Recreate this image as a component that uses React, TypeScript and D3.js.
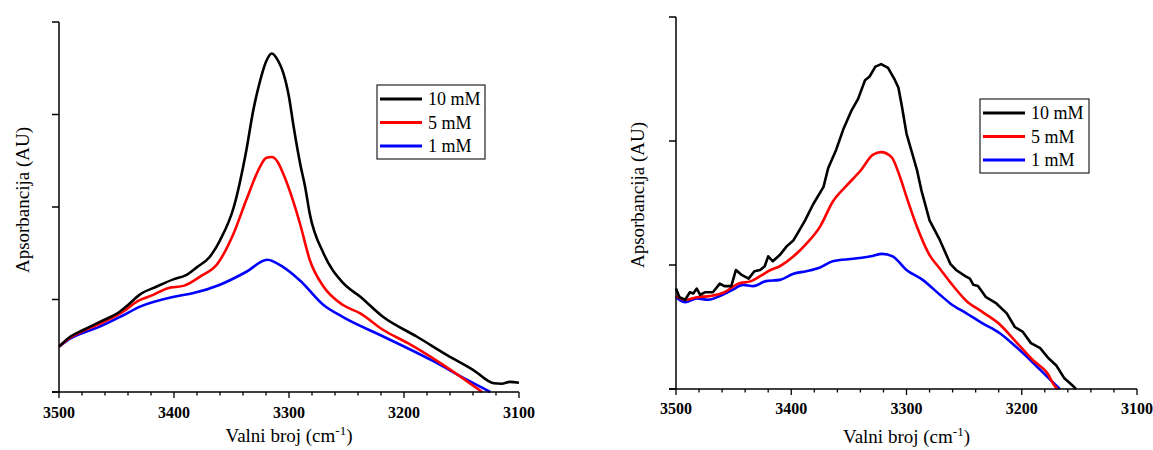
import React from "react";
import * as d3 from "d3";

// ---------- Data (left panel) ----------
const L10_wn = [3500, 3490, 3479, 3464, 3447, 3440, 3430, 3415, 3400, 3390, 3380, 3369, 3360, 3348, 3337, 3331, 3325, 3320, 3315, 3309, 3305, 3300, 3296, 3290, 3286, 3282, 3270, 3253, 3238, 3218, 3189, 3160, 3140, 3122, 3115, 3108, 3100];
const L10_v = [0.49, 0.6, 0.67, 0.76, 0.87, 0.94, 1.05, 1.14, 1.22, 1.26, 1.35, 1.46, 1.64, 2.0, 2.62, 3.05, 3.37, 3.57, 3.66, 3.57, 3.45, 3.19, 2.87, 2.45, 2.22, 1.93, 1.5, 1.18, 1.03, 0.81, 0.6, 0.38, 0.24, 0.095, 0.09, 0.11, 0.1];
const L5_wn = [3500, 3490, 3479, 3464, 3444, 3432, 3418, 3406, 3391, 3377, 3362, 3348, 3337, 3325, 3320, 3315, 3310, 3305, 3296, 3290, 3282, 3270, 3253, 3238, 3218, 3197, 3168, 3132];
const L5_v = [0.49, 0.59, 0.66, 0.74, 0.87, 0.98, 1.05, 1.12, 1.15, 1.25, 1.39, 1.72, 2.08, 2.44, 2.53, 2.54, 2.49, 2.36, 2.05, 1.8, 1.43, 1.14, 0.94, 0.85, 0.67, 0.53, 0.31, 0.0];
const L1_wn = [3500, 3490, 3479, 3464, 3444, 3430, 3400, 3383, 3360, 3337, 3319, 3305, 3290, 3270, 3253, 3218, 3174, 3145, 3125];
const L1_v = [0.49, 0.58, 0.64, 0.71, 0.83, 0.92, 1.03, 1.07, 1.16, 1.3, 1.43, 1.35, 1.2, 0.94, 0.81, 0.6, 0.33, 0.13, 0.0];

// ---------- Data (right panel) ----------
const R10_wn = [3500, 3497, 3492, 3488, 3485, 3482, 3479, 3475, 3468, 3462, 3458, 3452, 3448, 3443, 3437, 3432, 3427, 3423, 3420, 3416, 3410, 3404, 3398, 3393, 3388, 3381, 3372, 3368, 3361, 3355, 3348, 3342, 3336, 3332, 3327, 3322, 3316, 3310, 3307, 3304, 3300, 3296, 3291, 3287, 3280, 3271, 3262, 3257, 3249, 3245, 3242, 3238, 3231, 3222, 3213, 3206, 3199, 3192, 3184, 3177, 3170, 3163, 3155, 3153];
const R10_v = [0.81, 0.74, 0.72, 0.78, 0.77, 0.81, 0.76, 0.78, 0.78, 0.85, 0.83, 0.83, 0.96, 0.92, 0.89, 0.95, 0.96, 0.99, 1.07, 1.03, 1.08, 1.15, 1.2, 1.28, 1.36, 1.49, 1.63, 1.78, 1.93, 2.09, 2.24, 2.34, 2.49, 2.52, 2.6, 2.62, 2.59, 2.49, 2.43, 2.28, 2.06, 1.93, 1.77, 1.6, 1.36, 1.2, 1.01, 0.96, 0.91, 0.89, 0.84, 0.83, 0.74, 0.69, 0.61, 0.5, 0.46, 0.37, 0.33, 0.25, 0.19, 0.086, 0.02, 0.0];
const R5_wn = [3500, 3492, 3482, 3470, 3458, 3446, 3435, 3427, 3418, 3410, 3398, 3387, 3375, 3364, 3352, 3340, 3329, 3322, 3313, 3306, 3300, 3291, 3280, 3271, 3262, 3248, 3234, 3219, 3205, 3190, 3178, 3171, 3169];
const R5_v = [0.75, 0.72, 0.74, 0.75, 0.78, 0.85, 0.87, 0.91, 0.96, 0.99, 1.07, 1.17, 1.31, 1.51, 1.64, 1.76, 1.89, 1.91, 1.87, 1.72, 1.55, 1.31, 1.08, 0.97, 0.86, 0.71, 0.62, 0.52, 0.38, 0.23, 0.13, 0.02, 0.0];
const R1_wn = [3500, 3492, 3482, 3472, 3462, 3451, 3442, 3433, 3422, 3410, 3398, 3387, 3375, 3364, 3346, 3331, 3321, 3312, 3300, 3286, 3271, 3262, 3248, 3234, 3219, 3205, 3190, 3178, 3167];
const R1_v = [0.74, 0.7, 0.73, 0.72, 0.75, 0.8, 0.84, 0.83, 0.87, 0.88, 0.93, 0.95, 0.98, 1.03, 1.05, 1.07, 1.09, 1.07, 0.96, 0.88, 0.76, 0.69, 0.61, 0.53, 0.45, 0.34, 0.21, 0.1, 0.0];

const xTickValues = [3500, 3400, 3300, 3200, 3100];
const legendLabels = ["10 mM", "5 mM", "1 mM"];
const seriesColors = ["#000000", "#ff0000", "#0000ff"];
const yLabel = "Apsorbancija (AU)";

const FONT = "Liberation Serif, Times New Roman, Times, DejaVu Serif, serif";

type Series = { wn: number[]; v: number[]; noisy?: boolean };

function Panel(props: {
  x0: number; x1: number; yTop: number; yBot: number; yMax: number;
  series: Series[]; legend: { x: number; y: number; w: number; h: number };
  yLabelX: number; yLabelY: number; xLabelY: number; tickLabelY: number;
}) {
  const { x0, x1, yTop, yBot, yMax, series, legend } = props;
  const x = d3.scaleLinear().domain([3500, 3100]).range([x0, x1]);
  const y = d3.scaleLinear().domain([0, yMax]).range([yBot, yTop]);
  const minor = d3.range(3500, 3099, -20);
  const yTicks = d3.range(0, yMax + 0.001, 1);
  const smooth = d3.line<[number, number]>().x((d) => x(d[0])).y((d) => y(d[1])).curve(d3.curveMonotoneX);
  const lin = d3.line<[number, number]>().x((d) => x(d[0])).y((d) => y(d[1]));
  const cx = (x0 + x1) / 2;
  return (
    <g style={{ fontFamily: FONT }}>
      {series.map((s, i) => ({ s, i })).reverse().map(({ s, i }) => {
        const pts = s.wn.map((w, k) => [w, s.v[k]] as [number, number]);
        return (
          <path key={i} d={(s.noisy ? lin : smooth)(pts) || ""} fill="none" stroke={seriesColors[i]} strokeWidth={2.6} strokeLinejoin="round" />
        );
      })}
      <line x1={x0} x2={x0} y1={yTop} y2={yBot} stroke="#000" strokeWidth={1.5} />
      <line x1={x0 - 7} x2={x1} y1={yBot} y2={yBot} stroke="#000" strokeWidth={1.5} />
      {yTicks.map((t) => (
        <line key={"yt" + t} x1={x0 - 7} x2={x0} y1={y(t)} y2={y(t)} stroke="#000" strokeWidth={1.5} />
      ))}
      {minor.map((t) => (
        <line key={"mt" + t} x1={x(t)} x2={x(t)} y1={yBot} y2={yBot + (t % 100 === 0 ? 6 : 3.5)} stroke="#000" strokeWidth={1.3} />
      ))}
      {xTickValues.map((t) => (
        <text key={"tl" + t} x={x(t)} y={props.tickLabelY} textAnchor="middle" style={{ fontFamily: FONT }} fontWeight="bold" fontSize={16}>
          {t}
        </text>
      ))}
      <text x={cx} y={props.xLabelY} textAnchor="middle" style={{ fontFamily: FONT }} fontSize={19}>
        Valni broj (cm<tspan dy={-7} fontSize={13}>-1</tspan><tspan dy={7}>)</tspan>
      </text>
      <text transform={`translate(${props.yLabelX},${props.yLabelY}) rotate(-90)`} textAnchor="middle" style={{ fontFamily: FONT }} fontSize={19}>
        {yLabel}
      </text>
      <rect x={legend.x} y={legend.y} width={legend.w} height={legend.h} fill="#fff" stroke="#222" strokeWidth={1.2} />
      {legendLabels.map((lab, i) => {
        const ry = legend.y + 14 + i * 23.5;
        return (
          <g key={lab}>
            <line x1={legend.x + 3} x2={legend.x + 45} y1={ry} y2={ry} stroke={seriesColors[i]} strokeWidth={3} />
            <text x={legend.x + 51} y={ry + 6} style={{ fontFamily: FONT }} fontSize={18}>{lab}</text>
          </g>
        );
      })}
    </g>
  );
}

export default function App() {
  return (
    <svg width={1153} height={450} style={{ position: "absolute", left: 0, top: 0, background: "#fff" }}>
      <rect width={1153} height={450} fill="#fff" />
      <Panel
        x0={59} x1={519} yTop={22} yBot={392} yMax={4}
        series={[{ wn: L10_wn, v: L10_v }, { wn: L5_wn, v: L5_v }, { wn: L1_wn, v: L1_v }]}
        legend={{ x: 377, y: 85, w: 108, h: 74 }}
        yLabelX={29} yLabelY={200} xLabelY={442} tickLabelY={418}
      />
      <Panel
        x0={676} x1={1137} yTop={17} yBot={389} yMax={3}
        series={[{ wn: R10_wn, v: R10_v, noisy: true }, { wn: R5_wn, v: R5_v }, { wn: R1_wn, v: R1_v }]}
        legend={{ x: 980, y: 99, w: 109, h: 74 }}
        yLabelX={644} yLabelY={195} xLabelY={443} tickLabelY={414}
      />
    </svg>
  );
}
